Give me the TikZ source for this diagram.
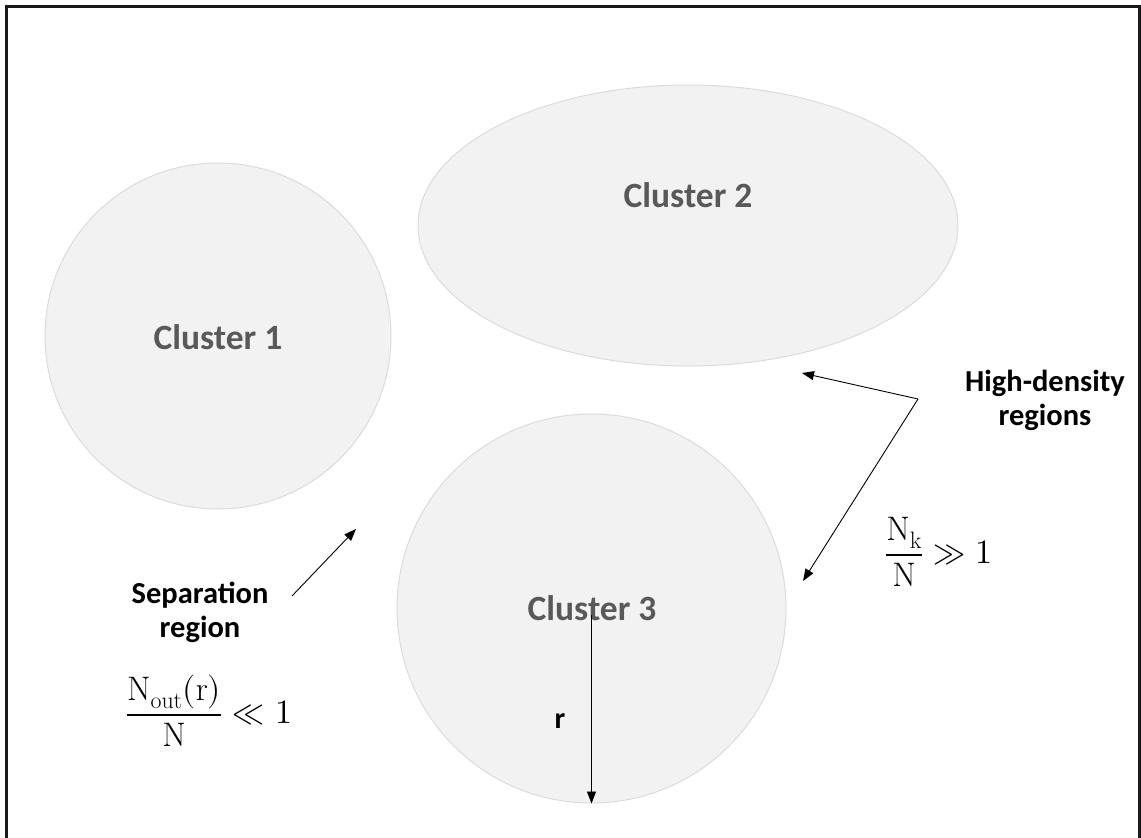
\documentclass[tikz,border=0pt]{standalone}
\usepackage{fontspec}
\usepackage{unicode-math}
\setmathfont{Latin Modern Math}
\setsansfont{Carlito}
\usetikzlibrary{arrows.meta,shapes.geometric}
\begin{document}
\begin{tikzpicture}[x=1pt,y=1pt,
  cluster/.style={draw=black!14, fill=black!5, line width=1pt, inner sep=0pt},
  clabel/.style={font=\sffamily\bfseries\fontsize{35.5}{42}\selectfont, text=black!65},
  lbl/.style={font=\sffamily\bfseries\fontsize{30.5}{34}\selectfont, align=center, inner sep=0pt},
  mathlbl/.style={font=\fontsize{34}{40}\selectfont, inner sep=0pt},
  arr/.style={-{Triangle[length=12pt,width=9pt]}, line width=0.9pt}]
\useasboundingbox (0,0) rectangle (1141,-838);
\draw[line width=3pt, black!90] (6,-838) -- (6,-6) -- (1139,-6) -- (1139,-838);
% clusters
\node[cluster, circle, minimum size=346pt] (c1) at (218,-336) {};
\node[cluster, ellipse, minimum width=540pt, minimum height=281pt] (c2) at (688,-225.5) {};
\node[cluster, circle, minimum size=389pt] (c3) at (591.5,-608.5) {};
\node[clabel] (t1) at (218,-337) {Cluster 1};
\node[clabel] (t2) at (688,-195) {Cluster 2};
\node[clabel] (t3) at (592,-608) {Cluster 3};
% labels
\node[lbl] (sep) at (200,-612) {Separation\\region};
\node[lbl] (hd) at (1045,-400) {High-density\\regions};
\node[mathlbl] (f1) at (939,-552) {$\displaystyle\frac{\mathrm{N_k}}{\mathrm{N}}\gg 1$};
\node[mathlbl] (f2) at (209,-711) {$\displaystyle\frac{\mathrm{N_{out}(r)}}{\mathrm{N}}\ll 1$};
\node[font=\sffamily\bfseries\fontsize{30}{35}\selectfont, inner sep=0pt] (r) at (560,-721) {r};
% connectors
\coordinate (s0) at (292,-596);
\coordinate (s1) at (356,-529);
\coordinate (h0) at (918,-399);
\coordinate (h1) at (802,-373);
\coordinate (h2) at (803,-581);
\coordinate (r0) at (591.5,-615);
\draw[arr] (s0) -- (s1);
\draw[arr] (h0) -- (h1);
\draw[arr] (h0) -- (h2);
\draw[arr] (r0) -- (c3.south);
\end{tikzpicture}
\end{document}
